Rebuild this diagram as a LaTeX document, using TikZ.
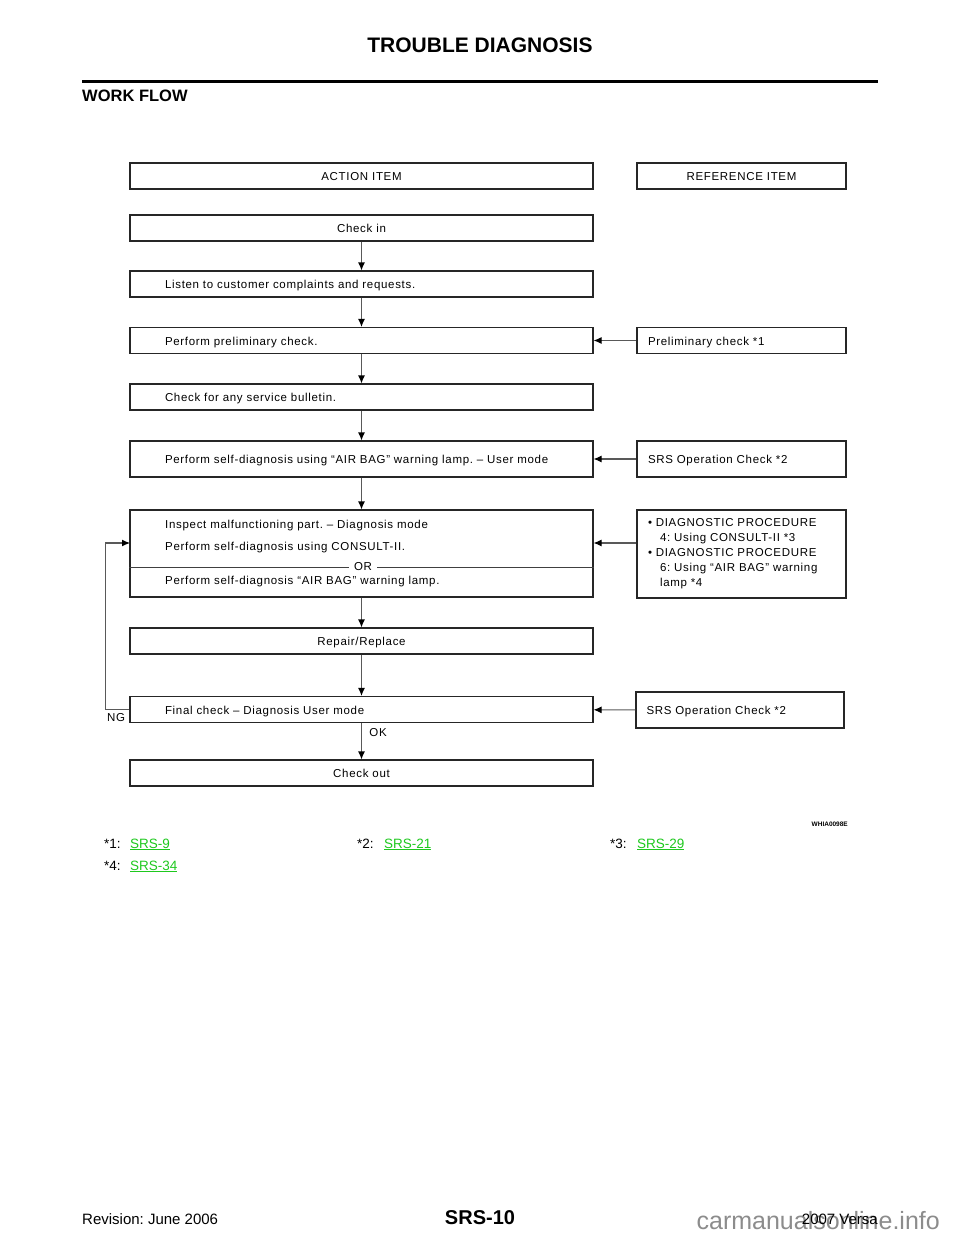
\documentclass[tikz,border=0pt]{standalone}
\usepackage{fontspec}
\setmainfont{Liberation Sans}
\newfontfamily\boxfont[LetterSpace=6]{Liberation Sans}
\usetikzlibrary{arrows.meta,positioning}
\definecolor{linkgreen}{RGB}{30,200,30}
\definecolor{markgray}{RGB}{140,140,140}
\frenchspacing
\tikzset{
    headbox/.style={draw=black!85,line width=1.8pt,minimum width=463pt,minimum height=26pt,inner sep=0pt,text height=10pt,text depth=1pt},
    actbox/.style={draw=black!85,line width=1.1pt,minimum width=463pt,minimum height=26pt,inner sep=0pt,text height=10pt,text depth=1pt},
    actleft/.style={actbox,text width=393pt,align=left},
    refbox/.style={draw=black!85,line width=1.1pt,minimum width=209pt,minimum height=26pt,text width=187pt,align=left,inner sep=0pt},
    refline/.style={refbox,text height=10pt,text depth=1pt},
    flow/.style={-{Latex[length=8pt,width=7pt,color=black]},draw=black!65,line width=1.1pt},
    note/.style={anchor=base west,inner sep=0pt,font=\fontsize{13.5}{16}\selectfont},
    link/.style={note,text=linkgreen},
    foot/.style={font=\fontsize{15}{18}\selectfont}
}
\begin{document}
\begin{tikzpicture}[x=1pt,y=-1pt,font=\boxfont\fontsize{11.5}{15}\selectfont]
\useasboundingbox (0,0) rectangle (960,1242);
% page head
\node[anchor=base,font=\bfseries\fontsize{21}{24}\selectfont] (title) at (480,52) {TROUBLE DIAGNOSIS};
\draw[line width=3pt] (82,81.5) -- (878,81.5);
\node[anchor=base west,inner sep=0pt,font=\bfseries\fontsize{16.5}{20}\selectfont] (wf) at (82,101) {WORK FLOW};
% column heads
\node[headbox] (acthead) at (361.5,176) {ACTION ITEM};
\node[headbox,minimum width=209pt] (refhead) at (741.5,176) {REFERENCE ITEM};
% action items
\node[actbox] (checkin) at (361.5,228) {Check in};
\node[actleft] (listen) at (361.5,284) {Listen to customer complaints and requests.};
\node[actleft] (prelim) at (361.5,340.5) {Perform preliminary check.};
\node[actleft] (bulletin) at (361.5,397) {Check for any service bulletin.};
\node[actleft,minimum height=36pt] (selfdiag) at (361.5,459) {Perform self-diagnosis using “AIR BAG” warning lamp. – User mode};
\node[actbox,minimum height=87pt] (inspect) at (361.5,553.5) {};
\node[anchor=west,inner sep=0pt] (insp1) at (165,526) {Inspect malfunctioning part. – Diagnosis mode};
\node[anchor=west,inner sep=0pt] (insp2) at (165,548) {Perform self-diagnosis using CONSULT-II.};
\node[anchor=west,inner sep=0pt] (insp3) at (165,582) {Perform self-diagnosis “AIR BAG” warning lamp.};
\coordinate (orline) at (363,567);
\draw[black!75,line width=0.8pt] (inspect.west|-orline) -- (inspect.east|-orline);
\node[fill=white,inner xsep=5pt,inner ysep=1pt] (or) at (orline) {OR};
\node[actbox] (repair) at (361.5,641) {Repair/Replace};
\node[actleft] (final) at (361.5,709.5) {Final check – Diagnosis User mode};
\node[actbox] (checkout) at (361.5,773) {Check out};
% reference items
\node[refline] (prelimref) at (741.5,340.5) {Preliminary check *1};
\node[refline,minimum height=36pt] (srsref) at (741.5,459) {SRS Operation Check *2};
\node[refbox,minimum height=88pt] (diagref) at (741.5,554) {• DIAGNOSTIC PROCEDURE\\\hspace*{12pt}4: Using CONSULT-II *3\\• DIAGNOSTIC PROCEDURE\\\hspace*{12pt}6: Using “AIR BAG” warning\\\hspace*{12pt}lamp *4};
\node[refline,minimum width=208pt,minimum height=36pt] (srsref2) at (740,710) {SRS Operation Check *2};
% connectors
\draw[flow] (checkin) -- (listen);
\draw[flow] (listen) -- (prelim);
\draw[flow] (prelim) -- (bulletin);
\draw[flow] (bulletin) -- (selfdiag);
\draw[flow] (selfdiag) -- (inspect);
\draw[flow] (inspect) -- (repair);
\draw[flow] (repair) -- (final);
\draw[flow] (final) -- node[pos=0.25,right=4pt] (ok) {OK} (checkout);
\draw[flow] (prelimref) -- (prelim);
\draw[flow] (srsref) -- (selfdiag);
\coordinate (ngin) at (130,543);
\draw[flow] (diagref.west|-ngin) -- (inspect.east|-ngin);
\draw[flow] (srsref2) -- (final);
\draw[flow] (final.west) -- ++(-24,0) |- (ngin);
\node (ng) at (116,718) {NG};
% figure code
\node[anchor=east,inner sep=0pt,font=\bfseries\fontsize{6.5}{8}\selectfont] (fig) at (848,824) {WHIA0098E};
% footnotes
\node[note] (n1) at (104,848) {*1:};
\node[link] (l1) at (130,848) {\underline{SRS-9}};
\node[note] (n2) at (357,848) {*2:};
\node[link] (l2) at (384,848) {\underline{SRS-21}};
\node[note] (n3) at (610,848) {*3:};
\node[link] (l3) at (637,848) {\underline{SRS-29}};
\node[note] (n4) at (104,870) {*4:};
\node[link] (l4) at (130,870) {\underline{SRS-34}};
% page foot
\node[foot,anchor=base west,inner sep=0pt] (rev) at (82,1224) {Revision: June 2006};
\node[anchor=base,inner sep=0pt,font=\bfseries\fontsize{20}{24}\selectfont] (page) at (480,1224) {SRS-10};
\node[anchor=base east,inner sep=0pt,text=markgray,font=\fontsize{25}{30}\selectfont] (mark) at (940,1229) {carmanualsonline.info};
\node[foot,anchor=base east,inner sep=0pt] (model) at (878,1224) {2007 Versa};
\end{tikzpicture}
\end{document}
